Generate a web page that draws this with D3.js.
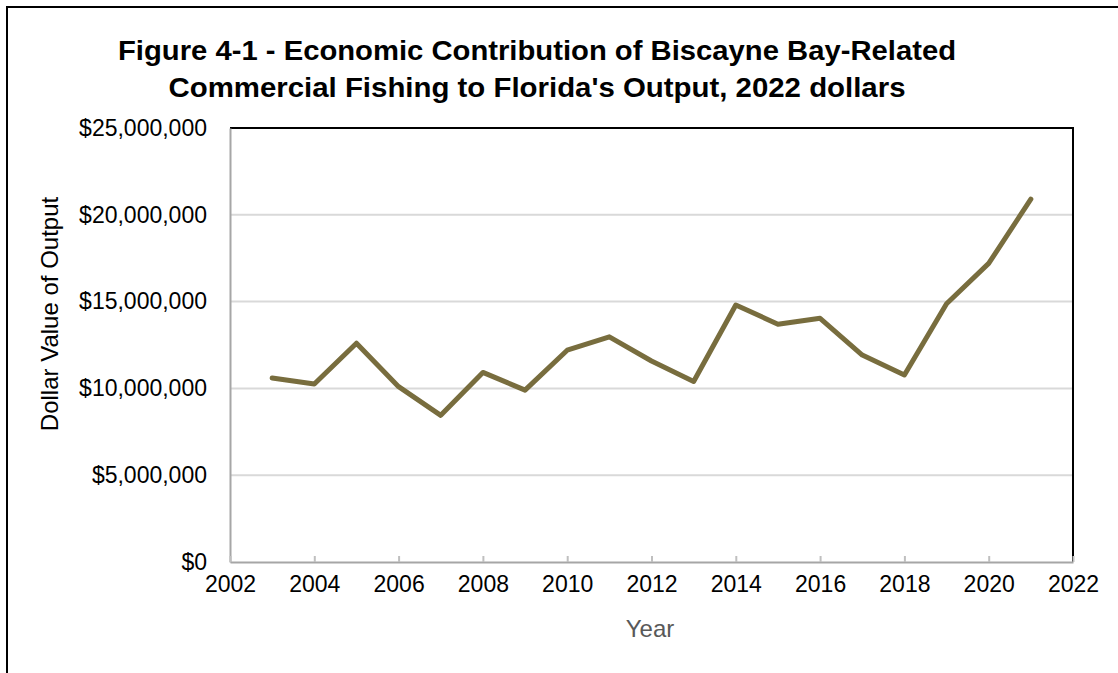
<!DOCTYPE html>
<html>
<head>
<meta charset="utf-8">
<script src="https://cdn.jsdelivr.net/npm/d3@7"></script>
<style>
  body { margin: 0; background: #fff; }
  svg { display: block; font-family: "Liberation Sans", Arial, sans-serif; }
</style>
</head>
<body>
<svg width="1118" height="673"></svg>
<script>
// chart data
const years = [2003, 2004, 2005, 2006, 2007, 2008, 2009, 2010, 2011, 2012,
  2013, 2014, 2015, 2016, 2017, 2018, 2019, 2020, 2021];
const output = [10600000, 10250000, 12600000, 10100000, 8450000, 10920000, 9900000,
  12200000, 12970000, 11580000, 10400000, 14800000, 13700000, 14040000, 11920000,
  10770000, 14880000, 17200000, 20900000];
const xTicks = [2002, 2004, 2006, 2008, 2010, 2012, 2014, 2016, 2018, 2020, 2022];
const yTicks = [0, 5000000, 10000000, 15000000, 20000000, 25000000];
const titleLines = ["Figure 4-1 - Economic Contribution of Biscayne Bay-Related",
  "Commercial Fishing to Florida's Output, 2022 dollars"];

const svg = d3.select('svg');
const plotL = 230, plotR = 1073, plotT = 128, plotB = 562;

const x = d3.scaleLinear().domain([2002, 2022]).range([plotL, plotR]);
const y = d3.scaleLinear().domain([0, 25000000]).range([plotB, plotT]);

// outer chart border
svg.append('rect')
  .attr('x', 7).attr('y', 7)
  .attr('width', 1140).attr('height', 700)
  .attr('fill', 'none').attr('stroke', '#000').attr('stroke-width', 2);

// title (the original is set a bit wider than Liberation Sans Bold)
svg.append('g').selectAll('text')
  .data(titleLines)
  .join('text')
  .attr('x', 537)
  .attr('y', (d, i) => 60 + i * 37)
  .attr('text-anchor', 'middle')
  .attr('font-size', 27)
  .attr('font-weight', 'bold')
  .attr('fill', '#000')
  .attr('textLength', (d, i) => i === 0 ? 838 : 737)
  .attr('lengthAdjust', 'spacingAndGlyphs')
  .text(d => d);

// gridlines
svg.append('g').selectAll('line')
  .data(yTicks.slice(1))
  .join('line')
  .attr('x1', plotL).attr('x2', plotR)
  .attr('y1', d => y(d)).attr('y2', d => y(d))
  .attr('stroke', '#d9d9d9').attr('stroke-width', 2);

// plot area border: top and right black
svg.append('path')
  .attr('d', `M${plotL},${plotT}H${plotR}V${plotB}`)
  .attr('fill', 'none').attr('stroke', '#000').attr('stroke-width', 2);

// y axis
const yAxis = svg.append('g')
  .attr('transform', `translate(${plotL},0)`)
  .call(d3.axisLeft(y).tickValues(yTicks).tickSize(0).tickPadding(23)
    .tickFormat(d => '$' + d3.format(',')(d)));
yAxis.select('.domain').attr('stroke', '#a6a6a6').attr('stroke-width', 2);
yAxis.selectAll('text').attr('font-size', 23).attr('fill', '#000')
  .attr('font-family', '"Liberation Sans", Arial, sans-serif');

// x axis
const xAxis = svg.append('g')
  .attr('transform', `translate(0,${plotB})`)
  .call(d3.axisBottom(x).tickValues(xTicks).tickSizeInner(-6).tickSizeOuter(0)
    .tickPadding(14).tickFormat(d3.format('d')));
xAxis.select('.domain').attr('stroke', '#a6a6a6').attr('stroke-width', 2);
xAxis.selectAll('.tick line').attr('stroke', '#bfbfbf').attr('stroke-width', 2);
xAxis.selectAll('text').attr('font-size', 23).attr('fill', '#000')
  .attr('font-family', '"Liberation Sans", Arial, sans-serif');

// axis titles
svg.append('text')
  .attr('x', 650).attr('y', 637)
  .attr('text-anchor', 'middle')
  .attr('font-size', 24).attr('fill', '#595959')
  .text('Year');

svg.append('text')
  .attr('transform', 'translate(58,314) rotate(-90)')
  .attr('text-anchor', 'middle')
  .attr('font-size', 24).attr('fill', '#000')
  .text('Dollar Value of Output');

// data line
const line = d3.line()
  .x((d, i) => x(years[i]))
  .y(d => y(d));

svg.append('path')
  .datum(output)
  .attr('d', line)
  .attr('fill', 'none')
  .attr('stroke', '#786d3e')
  .attr('stroke-width', 5)
  .attr('stroke-linejoin', 'round')
  .attr('stroke-linecap', 'round');
</script>
</body>
</html>
